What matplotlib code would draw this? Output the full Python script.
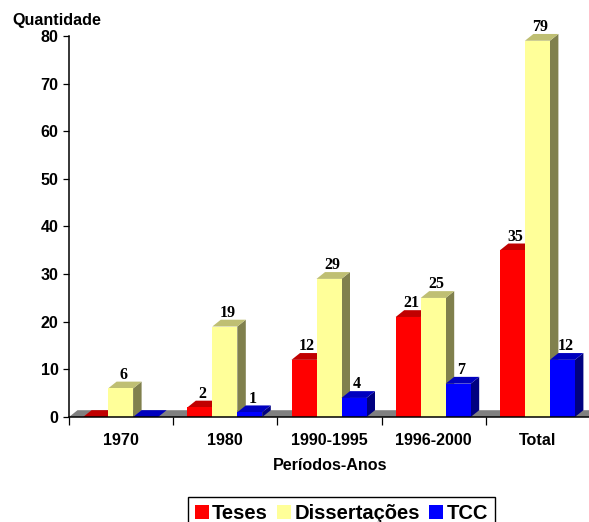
import matplotlib
matplotlib.use("Agg")
import matplotlib.pyplot as plt
from matplotlib.patches import Polygon, Patch

categories = ["1970", "1980", "1990-1995", "1996-2000", "Total"]
teses = [0, 2, 12, 21, 35]
dissertacoes = [6, 19, 29, 25, 79]
tcc = [0, 1, 4, 7, 12]
series_names = ["Teses", "Dissertações", "TCC"]

W, H = 589, 522
fig = plt.figure(figsize=(W / 100, H / 100), dpi=100, facecolor="white")
L, R, T, B = 69, 590, 36, 417
ax = fig.add_axes([L / W, 1 - B / H, (R - L) / W, (B - T) / H])
ax.set_xlim(-0.5, 4.5)
ax.set_ylim(0, 80)

ux = 5 / (R - L)      # data per pixel, x
uy = 80 / (B - T)     # data per pixel, y
DX, DY = 8.5 * ux, 6.8 * uy
BW = 25 * ux


def box(x0, x1, v, front, top, side, z):
    ax.add_patch(Polygon([(x1, 0), (x1 + DX, DY), (x1 + DX, v + DY), (x1, v)],
                         fc=side, ec="none", clip_on=False, zorder=z))
    ax.add_patch(Polygon([(x0, v), (x1, v), (x1 + DX, v + DY), (x0 + DX, v + DY)],
                         fc=top, ec="none", clip_on=False, zorder=z))
    if v > 0:
        ax.add_patch(Polygon([(x0, 0), (x1, 0), (x1, v), (x0, v)],
                             fc=front, ec="none", clip_on=False, zorder=z + 0.1))


# floor
ax.add_patch(Polygon([(-0.5, 0), (4.5, 0), (4.5 + DX, DY), (-0.5 + DX, DY)],
                     fc="#808080", ec="none", clip_on=False, zorder=1))

styles = [("#FF0000", "#C00000", "#800000"),
          ("#FFFF99", "#BFBF73", "#80804D"),
          ("#0000FF", "#0000BF", "#000080")]
offsets = [-1, 0, 1]
for i in range(len(categories)):
    for j, vals in enumerate([teses, dissertacoes, tcc]):
        x0 = i + (offsets[j] - 0.5) * BW - 0.5 * ux
        box(x0, x0 + BW, vals[i], *styles[j], z=2 + i + j * 0.2)
        if vals[i] > 0:
            ax.annotate(str(vals[i]), (x0 + BW / 2, vals[i]), xytext=(3, 5.5),
                        textcoords=("offset pixels"), ha="center", va="bottom",
                        family="Liberation Serif", weight="bold", fontsize=11.5,
                        color="black", zorder=20, annotation_clip=False)

for s in ["top", "right"]:
    ax.spines[s].set_visible(False)
for s in ["left", "bottom"]:
    ax.spines[s].set_linewidth(1.1)
    ax.spines[s].set_zorder(15)

ax.set_yticks(range(0, 81, 10))
ax.set_xticks(range(len(categories)))
ax.set_xticklabels(categories)
ax.set_xticks([x - 0.5 for x in range(len(categories) + 1)], minor=True)
ax.tick_params(axis="x", which="major", length=0, pad=11.5)
ax.tick_params(axis="x", which="minor", length=5.5, width=0.9, direction="out")
ax.tick_params(axis="y", length=4.5, width=0.9, direction="out", pad=3)
for lab in ax.get_xticklabels() + ax.get_yticklabels():
    lab.set_family("Liberation Sans")
    lab.set_weight("bold")
    lab.set_fontsize(11.6)

fig.text(12 / W, 1 - 20 / H, "Quantidade", family="Liberation Sans", weight="bold",
         fontsize=11.6, ha="left", va="center")
fig.text(330 / W, 1 - 465 / H, "Períodos-Anos", family="Liberation Sans", weight="bold",
         fontsize=11.6, ha="center", va="center")

handles = [Patch(fc=styles[k][0], ec="none", label=series_names[k]) for k in range(3)]
leg = fig.legend(handles=handles, loc="upper left",
                 bbox_to_anchor=(188 / W, 1 - 497 / H), ncol=3, frameon=True,
                 fancybox=False, edgecolor="black", framealpha=1, borderaxespad=0,
                 prop={"family": "Liberation Sans", "weight": "bold", "size": 14.5},
                 handlelength=0.7, handleheight=0.7, handletextpad=0.17,
                 columnspacing=0.45, borderpad=0.33)
leg.get_frame().set_linewidth(1.0)

fig.savefig("out.png", dpi=100)
